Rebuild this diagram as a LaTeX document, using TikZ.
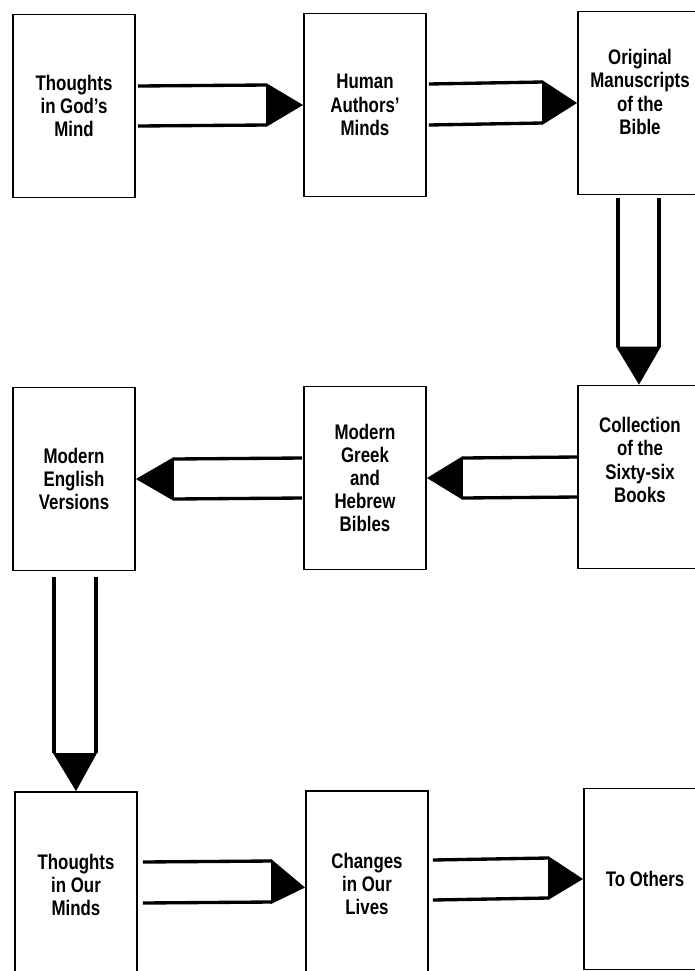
\documentclass[tikz,border=0pt]{standalone}
\usepackage{fontspec}
\setmainfont{Liberation Sans}[FakeStretch=0.8]

\tikzset{
	box/.style={draw, line width=1.1pt, minimum width=2.44cm, minimum height=3.66cm, inner sep=0pt, align=center, font=\bfseries\fontsize{12}{13.2}\selectfont},
	boxtext/.style={inner sep=0pt, align=center, font=\bfseries\fontsize{12}{13.2}\selectfont},
	shaft/.style={line width=1.9pt},
	head/.style={fill=black}
}

\begin{document}
\begin{tikzpicture}[x=0.02cm, y=-0.02cm]
				% Рамка рисунка
				\useasboundingbox (0,0) rectangle (694,971);
				
				% Блоки верхнего ряда
				\node[box] (god) at (74,106) {Thoughts\\in God's\\Mind};
				\node[box] (authors) at (365,105) {Human\\Authors'\\Minds};
				\node[box] (orig) at (639,103) {};
				\node[boxtext] (origtext) at (640,92) {Original\\Manuscripts\\of the\\Bible};
				
				% Блоки среднего ряда
				\node[box] (english) at (74,479) {Modern\\English\\Versions};
				\node[box] (greek) at (365,478) {Modern\\Greek\\and\\Hebrew\\Bibles};
				\node[box] (coll) at (639,477) {};
				\node[boxtext] (colltext) at (640,460) {Collection\\of the\\Sixty-six\\Books};
				
				% Блоки нижнего ряда
				\node[box, minimum height=3.72cm] (ourminds) at (76,885) {Thoughts\\in Our\\Minds};
				\node[box, minimum height=3.72cm] (lives) at (367,884) {Changes\\in Our\\Lives};
				\node[box, minimum height=3.62cm] (others) at (645,879) {To Others};
				
				% Стрелка: God -> Authors
				\draw[shaft] ([shift={(2,-20)}]god.east) -- ([shift={(-37,-20)}]authors.west);
				\draw[shaft] ([shift={(2,20)}]god.east) -- ([shift={(-37,20)}]authors.west);
				\fill[head] ([shift={(-37,-22)}]authors.west) -- (authors.west) -- ([shift={(-37,22)}]authors.west) -- cycle;
				
				% Стрелка: Authors -> Original
				\draw[shaft] ([shift={(2,-21)}]authors.east) -- ([shift={(-35,-21)}]orig.west);
				\draw[shaft] ([shift={(2,20)}]authors.east) -- ([shift={(-35,20)}]orig.west);
				\fill[head] ([shift={(-35,-23)}]orig.west) -- (orig.west) -- ([shift={(-35,22)}]orig.west) -- cycle;
				
				% Стрелка: Original -> Collection
				\draw[shaft] ([shift={(-21,3)}]orig.south) -- ([shift={(-21,-38)}]coll.north);
				\draw[shaft] ([shift={(20,3)}]orig.south) -- ([shift={(20,-38)}]coll.north);
				\fill[head] ([shift={(-23,-38)}]coll.north) -- (coll.north) -- ([shift={(22,-38)}]coll.north) -- cycle;
				
				% Стрелка: Collection -> Greek
				\draw[shaft] ([shift={(0,-20)}]coll.west) -- ([shift={(36,-20)}]greek.east);
				\draw[shaft] ([shift={(0,20)}]coll.west) -- ([shift={(36,20)}]greek.east);
				\fill[head] ([shift={(36,-22)}]greek.east) -- (greek.east) -- ([shift={(36,22)}]greek.east) -- cycle;
				
				% Стрелка: Greek -> English
				\draw[shaft] ([shift={(-1,-20)}]greek.west) -- ([shift={(38,-20)}]english.east);
				\draw[shaft] ([shift={(-1,20)}]greek.west) -- ([shift={(38,20)}]english.east);
				\fill[head] ([shift={(38,-22)}]english.east) -- (english.east) -- ([shift={(38,22)}]english.east) -- cycle;
				
				% Стрелка: English -> Our Minds
				\draw[shaft] ([shift={(-20,6)}]english.south) -- ([shift={(-22,-38)}]ourminds.north);
				\draw[shaft] ([shift={(22,6)}]english.south) -- ([shift={(20,-38)}]ourminds.north);
				\fill[head] ([shift={(-23,-38)}]ourminds.north) -- (ourminds.north) -- ([shift={(21,-38)}]ourminds.north) -- cycle;
				
				% Стрелка: Our Minds -> Lives
				\draw[shaft] ([shift={(5,-23)}]ourminds.east) -- ([shift={(-34,-23)}]lives.west);
				\draw[shaft] ([shift={(5,18)}]ourminds.east) -- ([shift={(-34,18)}]lives.west);
				\fill[head] ([shift={(-34,-25)}]lives.west) -- ([yshift=-2]lives.west) -- ([shift={(-34,20)}]lives.west) -- cycle;
				
				% Стрелка: Lives -> Others
				\draw[shaft] ([shift={(4,-24)}]lives.east) -- ([shift={(-35,-21)}]others.west);
				\draw[shaft] ([shift={(4,16)}]lives.east) -- ([shift={(-35,19)}]others.west);
				\fill[head] ([shift={(-35,-23)}]others.west) -- (others.west) -- ([shift={(-35,21)}]others.west) -- cycle;
			\end{tikzpicture}
\end{document}
